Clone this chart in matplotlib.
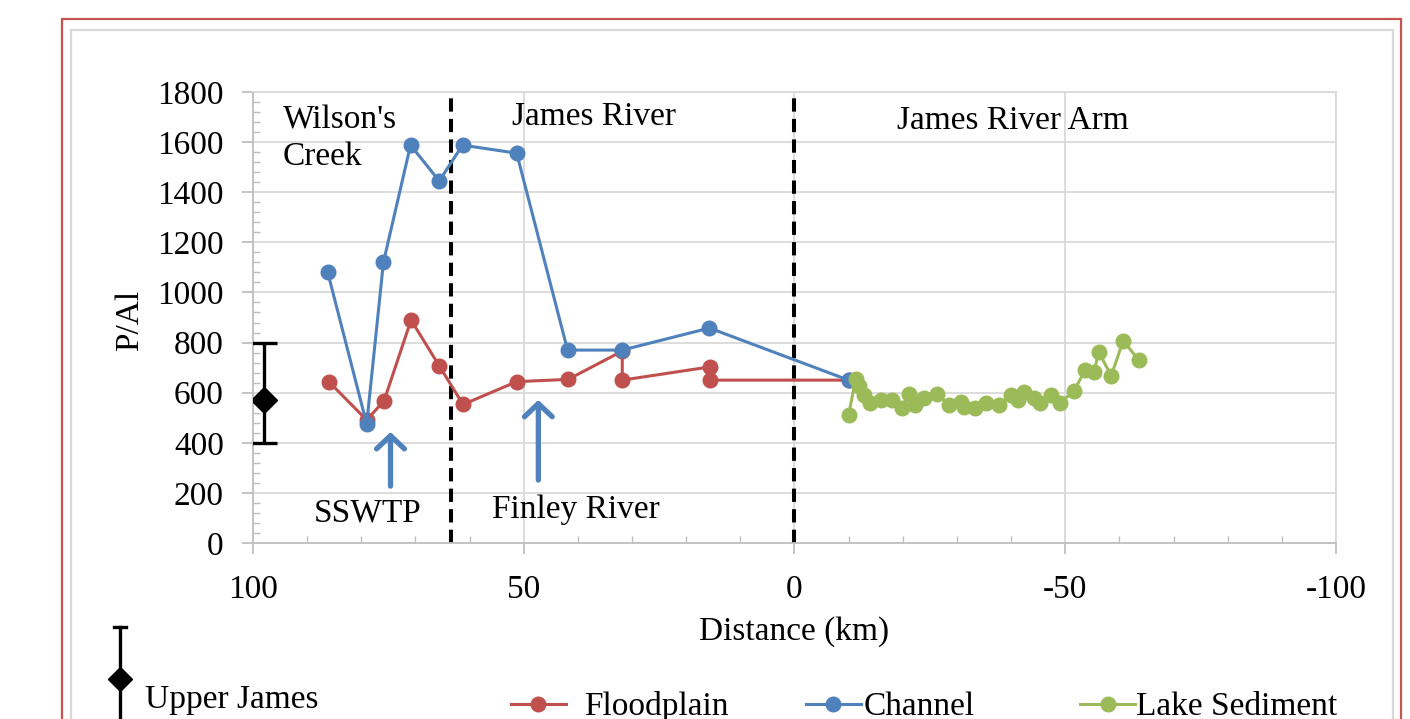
import matplotlib.pyplot as plt
from matplotlib.lines import Line2D
from matplotlib.patches import Rectangle
from matplotlib.ticker import MultipleLocator

plt.rcParams['font.family'] = ['Liberation Serif', 'DejaVu Serif']
plt.rcParams['axes.unicode_minus'] = False
FS = 24

# distance along river (km) and P/Al ratio
flood_x = [86.0, 79.0, 75.8, 70.8, 65.6, 61.2, 51.3, 41.8, 31.8, 31.8, 15.6, 15.6, -10.0]
flood_y = [644, 491, 567, 890, 707, 553, 644, 653, 766, 650, 703, 650, 650]

chan_x = [86.2, 79.0, 75.9, 70.9, 65.6, 61.3, 51.3, 41.9, 31.8, 15.7, -10.0]
chan_y = [1081, 475, 1121, 1588, 1445, 1588, 1556, 770, 770, 858, 650]

lake_x = [-10.0, -11.3, -11.9, -12.8, -13.9, -15.9, -18.0, -19.9, -21.1, -22.3, -24.0,
          -26.4, -28.5, -30.7, -31.3, -33.4, -35.3, -37.7, -39.9, -41.3, -42.3, -44.2,
          -45.4, -47.3, -49.0, -51.6, -53.7, -55.3, -56.2, -58.5, -60.7, -63.6]
lake_y = [510, 655, 625, 591, 560, 571, 571, 537, 595, 551, 577,
          595, 551, 564, 541, 537, 557, 551, 591, 571, 604, 577,
          557, 591, 557, 607, 690, 684, 761, 668, 807, 730]

# upper James reference value
uj_x = 98
uj_y = 570
uj_err = [[172], [227]]

red = '#C0504D'
blue = '#4F81BD'
green = '#9BBB59'
grid_c = '#D9D9D9'

fig = plt.figure(figsize=(14.10, 7.19), dpi=100)
ax = fig.add_axes([0.1794, 0.2448, 0.7681, 0.6272])

# outer frames
fig.add_artist(Rectangle((0.0440, -0.2), 0.9496, 1.1736, transform=fig.transFigure,
                         fill=False, ec='#C8524F', lw=1.6))
fig.add_artist(Rectangle((0.0504, -0.2), 0.9375, 1.1583, transform=fig.transFigure,
                         fill=False, ec=grid_c, lw=1.6))

h_fl, = ax.plot(flood_x, flood_y, '-o', color=red, lw=2.2, ms=10.5, zorder=3)
h_ch, = ax.plot(chan_x, chan_y, '-o', color=blue, lw=2.2, ms=10.5, zorder=4)
h_lk, = ax.plot(lake_x, lake_y, '-o', color=green, lw=2.2, ms=10.5, zorder=5)
ax.errorbar([uj_x], [uj_y], yerr=uj_err, fmt='D', color='black', ms=13,
            elinewidth=2.4, capsize=9, capthick=2.4, zorder=6)

# region dividers
ax.plot([63.5, 63.5], [0, 1790], color='black', lw=2.9, ls=(0, (3.3, 1.8)), zorder=2)
ax.plot([0, 0], [0, 1790], color='black', lw=2.9, ls=(0, (3.3, 1.8)), zorder=2)

ax.text(94.5, 1688, "Wilson's", fontsize=FS, ha='left', va='center')
ax.text(94.5, 1540, "Creek", fontsize=FS, ha='left', va='center')
ax.text(37.1, 1700, "James River", fontsize=FS, ha='center', va='center')
ax.text(-40.3, 1684, "James River Arm", fontsize=FS, ha='center', va='center')
ax.text(78.9, 120, "SSWTP", fontsize=FS, ha='center', va='center')
ax.text(40.3, 132, "Finley River", fontsize=FS, ha='center', va='center')

arrow = dict(arrowstyle='->,head_length=0.95,head_width=1.0', color=blue, lw=3.8,
             shrinkA=0, shrinkB=0)
ax.annotate('', xy=(74.6, 443), xytext=(74.6, 227), arrowprops=arrow)
ax.annotate('', xy=(47.3, 571), xytext=(47.3, 251), arrowprops=arrow)

ax.set_xlim(100, -100)
ax.set_ylim(0, 1800)
ax.set_xticks([100, 50, 0, -50, -100])
ax.set_yticks(range(0, 1801, 200))
ax.xaxis.set_minor_locator(MultipleLocator(10))
ax.yaxis.set_minor_locator(MultipleLocator(40))
ax.grid(True, which='major', color=grid_c, lw=1.3)
ax.set_axisbelow(True)
for s in ax.spines.values():
    s.set_color(grid_c)
    s.set_linewidth(1.3)
ax.spines['left'].set_color('#BFBFBF')
ax.spines['bottom'].set_color('#BFBFBF')
ax.tick_params(which='major', direction='out', length=8, width=1.3, color='#BFBFBF',
               labelsize=FS)
ax.tick_params(axis='y', which='major', pad=13)
ax.tick_params(axis='x', which='major', pad=15)
ax.tick_params(which='minor', direction='in', length=5, width=1.0, color='#BFBFBF')

ax.set_xlabel('Distance (km)', fontsize=FS)
ax.xaxis.set_label_coords(0.5, -0.197)
ax.xaxis.label.set_va('center')
ax.set_ylabel('P/Al', fontsize=FS)
ax.yaxis.set_label_coords(-0.1136, 0.494)
ax.yaxis.label.set_va('center')

# legend
for h, lab, x0, pad in [(h_fl, 'Floodplain', 0.3624, 0.55),
                        (h_ch, 'Channel', 0.5716, 0.08),
                        (h_lk, 'Lake Sediment', 0.7660, 0.04)]:
    lg = fig.legend(handles=[h], labels=[lab], loc='center left',
                    bbox_to_anchor=(x0, 0.0167), frameon=False, fontsize=FS,
                    handlelength=1.65, handletextpad=pad, borderpad=0,
                    borderaxespad=0)

fig.add_artist(Line2D([0.0851, 0.0851], [-0.1, 0.128], color='black', lw=2.4))
fig.add_artist(Line2D([0.0809, 0.0894], [0.128, 0.128], color='black', lw=2.4))
fig.add_artist(Line2D([0.0851], [0.0556], marker='D', color='black', ms=12))
fig.text(0.1028, 0.0264, 'Upper James', fontsize=FS, ha='left', va='center')

fig.savefig('out.png', dpi=100)
